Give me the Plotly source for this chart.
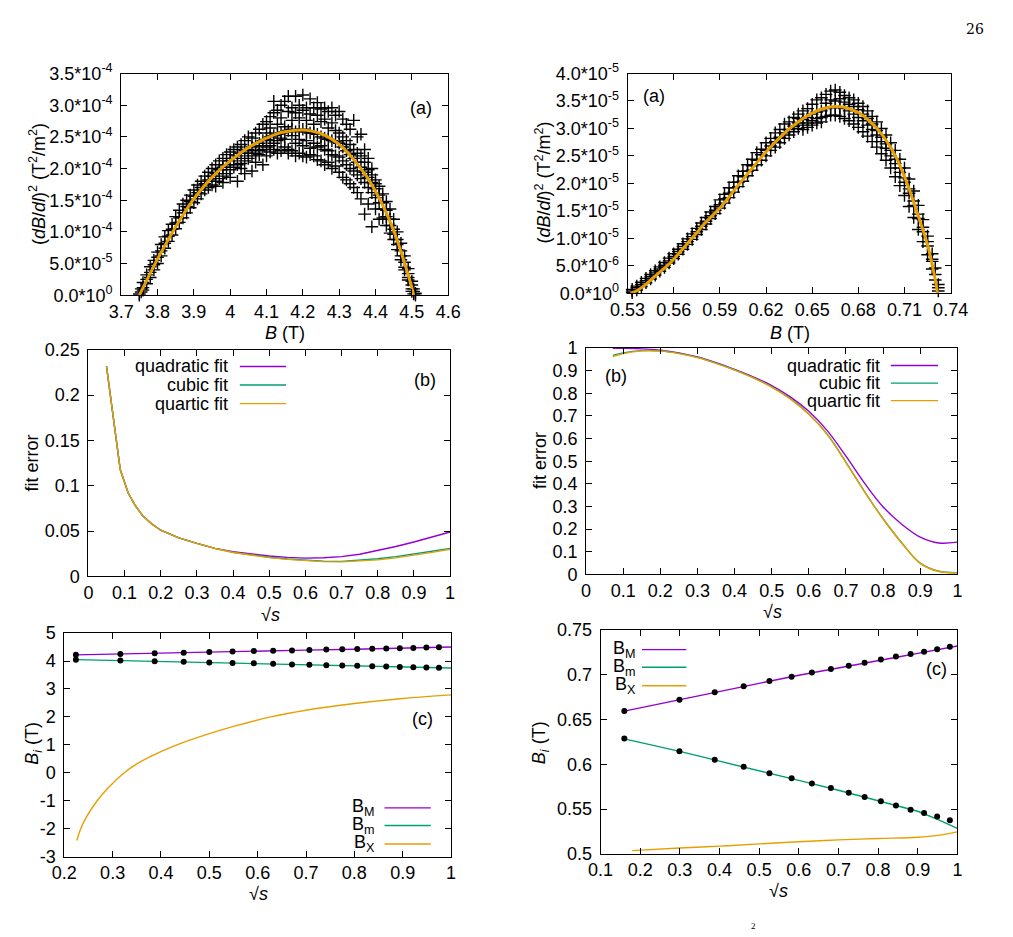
import plotly.graph_objects as go

W, H = 1013, 937
FONT = "Liberation Sans, Arial, sans-serif"
FS = 18
PURPLE, GREEN, ORANGE = "#9400d3", "#009e73", "#e69f00"

# ---------------- Panel (a), left: (dB/dl)^2 in units of 1e-4 T^2/m^2 ----------------
aL_B = [3.750, 3.755, 3.760, 3.770, 3.780, 3.790, 3.800, 3.810, 3.820, 3.830, 3.840, 3.850,
        3.860, 3.870, 3.880, 3.890, 3.900, 3.910, 3.920, 3.930, 3.940, 3.950, 3.960, 3.970,
        3.980, 3.990, 4.000, 4.010, 4.020, 4.030, 4.040, 4.050, 4.060, 4.070, 4.080, 4.090,
        4.100, 4.110, 4.120, 4.130, 4.140, 4.150, 4.160, 4.170, 4.180, 4.190, 4.200, 4.210,
        4.220, 4.230, 4.240, 4.250, 4.260, 4.270, 4.280, 4.290, 4.300, 4.310, 4.320, 4.330,
        4.340, 4.350, 4.360, 4.370, 4.380, 4.390, 4.400, 4.410, 4.420, 4.430, 4.440, 4.450,
        4.460, 4.470, 4.480, 4.490, 4.500, 4.505, 4.510]
aL_v = [[0.00, 0.02], [0.05, 0.10], [0.12, 0.08, 0.20], [0.25, 0.18, 0.32], [0.36, 0.28, 0.45],
        [0.48, 0.40, 0.55], [0.60, 0.50, 0.68], [0.70, 0.62, 0.80], [0.82, 0.74, 0.92],
        [0.93, 0.85, 1.02], [1.04, 0.95, 1.12], [1.14, 1.05, 1.24], [1.22, 1.15, 1.34],
        [1.30, 1.22, 1.44], [1.40, 1.30, 1.50], [1.48, 1.38, 1.58], [1.56, 1.46, 1.66],
        [1.62, 1.52, 1.74], [1.70, 1.60, 1.80], [1.76, 1.66, 1.88], [1.82, 1.70, 1.94],
        [1.88, 1.74, 2.00], [1.92, 1.80, 2.06, 1.72], [1.98, 1.84, 2.12], [2.02, 1.88, 2.16, 1.78],
        [2.06, 1.92, 2.22], [2.12, 1.98, 2.26, 1.86], [2.16, 2.02, 2.30], [2.20, 2.06, 2.34, 1.80],
        [2.24, 2.08, 2.38, 2.00], [2.28, 2.12, 2.44, 1.92], [2.30, 2.16, 2.50, 2.24],
        [2.34, 2.20, 2.48, 1.96], [2.36, 2.24, 2.56, 2.10], [2.40, 2.28, 2.62, 2.22],
        [2.44, 2.30, 2.70, 2.06], [2.46, 2.34, 2.74, 2.20, 2.56], [2.50, 2.36, 2.82, 2.26, 2.64],
        [2.52, 2.40, 2.88, 2.30, 3.06], [2.54, 2.44, 2.92, 2.24, 2.70], [2.56, 2.48, 3.00, 2.28, 2.80],
        [2.58, 2.46, 3.06, 2.34, 2.66], [2.60, 2.30, 2.90, 2.24, 3.14], [2.62, 2.52, 2.96, 2.28, 2.76],
        [2.58, 2.40, 2.88, 2.20, 3.14], [2.60, 2.46, 3.00, 2.24, 2.80], [2.62, 2.36, 2.92, 2.20, 3.16],
        [2.58, 2.44, 2.96, 2.18, 2.76], [2.56, 2.32, 3.10, 2.22, 2.86], [2.56, 2.40, 2.96, 2.20, 2.70],
        [2.54, 2.34, 3.04, 2.14, 2.84], [2.50, 2.36, 2.94, 2.12, 2.74], [2.48, 2.30, 2.96, 2.06, 2.78],
        [2.46, 2.28, 2.90, 2.10, 2.64], [2.44, 2.22, 2.96, 2.00, 2.72], [2.42, 2.20, 2.84, 2.04, 2.60],
        [2.40, 2.18, 2.90, 1.94, 2.56], [2.34, 2.12, 2.78, 1.86, 2.50], [2.28, 2.06, 2.70, 1.82, 2.44],
        [2.22, 2.00, 2.62, 1.76, 2.38], [2.16, 1.96, 2.76, 1.70, 2.30], [2.10, 1.90, 2.50, 1.62, 2.24],
        [2.02, 1.84, 2.54, 1.52, 2.20], [1.94, 1.78, 2.30, 1.28, 2.10], [1.86, 1.70, 2.16, 1.44, 1.98],
        [1.78, 1.62, 2.00, 1.08, 1.90], [1.68, 1.54, 1.82, 1.36, 1.76], [1.58, 1.46, 1.72, 1.20],
        [1.46, 1.36, 1.60, 1.22], [1.34, 1.24, 1.48, 1.10], [1.20, 1.10, 1.36, 0.98],
        [1.04, 0.96, 1.20, 0.88], [0.88, 0.80, 1.00, 0.72], [0.70, 0.62, 0.82, 0.56],
        [0.52, 0.44, 0.62, 0.40], [0.34, 0.28, 0.42, 0.24], [0.16, 0.10, 0.22, 0.06],
        [0.06, 0.02, 0.10], [0.00, 0.03]]
aL_fit_B = [3.75, 3.775, 3.80, 3.825, 3.85, 3.875, 3.90, 3.925, 3.95, 3.975, 4.00, 4.025, 4.05,
            4.075, 4.10, 4.125, 4.15, 4.175, 4.20, 4.225, 4.25, 4.275, 4.30, 4.325, 4.35, 4.375,
            4.40, 4.425, 4.45, 4.475, 4.50, 4.505]
aL_fit_v = [0.0, 0.29, 0.57, 0.83, 1.08, 1.31, 1.52, 1.70, 1.86, 2.00, 2.12, 2.23, 2.33, 2.41,
            2.48, 2.54, 2.58, 2.60, 2.61, 2.59, 2.55, 2.48, 2.38, 2.24, 2.07, 1.88, 1.64, 1.36,
            1.02, 0.60, 0.12, 0.0]

# ---------------- Panel (a), right: (dB/dl)^2 in units of 1e-5 T^2/m^2 ----------------
aR_B = [0.533, 0.536, 0.539, 0.542, 0.545, 0.548, 0.551, 0.554, 0.557, 0.560, 0.563, 0.566,
        0.569, 0.572, 0.575, 0.578, 0.581, 0.584, 0.587, 0.590, 0.593, 0.596, 0.599, 0.602,
        0.605, 0.608, 0.611, 0.614, 0.617, 0.620, 0.623, 0.626, 0.629, 0.632, 0.635, 0.638,
        0.641, 0.644, 0.647, 0.650, 0.653, 0.656, 0.659, 0.662, 0.665, 0.668, 0.671, 0.674,
        0.677, 0.680, 0.683, 0.686, 0.689, 0.692, 0.695, 0.698, 0.701, 0.704, 0.707, 0.710,
        0.713, 0.716, 0.719, 0.722, 0.725, 0.728, 0.730, 0.732]
aR_v = [[0.01, 0.04, 0.07], [0.06, 0.10, 0.13], [0.12, 0.16, 0.20], [0.19, 0.23, 0.27],
        [0.26, 0.30, 0.34], [0.33, 0.37, 0.41], [0.40, 0.44, 0.48], [0.47, 0.51, 0.56],
        [0.55, 0.59, 0.64], [0.63, 0.67, 0.72], [0.71, 0.76, 0.80], [0.80, 0.85, 0.90],
        [0.89, 0.94, 0.99], [0.98, 1.03, 1.08], [1.07, 1.12, 1.18], [1.16, 1.22, 1.28],
        [1.26, 1.31, 1.38], [1.36, 1.41, 1.48], [1.45, 1.51, 1.58], [1.55, 1.61, 1.70],
        [1.64, 1.72, 1.80], [1.74, 1.82, 1.92], [1.84, 1.92, 2.02], [1.94, 2.02, 2.14],
        [2.04, 2.12, 2.22], [2.14, 2.22, 2.34], [2.24, 2.32, 2.44], [2.34, 2.42, 2.56],
        [2.42, 2.52, 2.62], [2.50, 2.60, 2.74], [2.60, 2.68, 2.82], [2.66, 2.76, 2.92],
        [2.74, 2.84, 2.98], [2.82, 2.92, 3.08], [2.88, 2.98, 3.12], [2.94, 3.04, 3.20],
        [3.00, 3.10, 3.26, 3.18], [3.06, 3.16, 3.32, 2.98], [3.10, 3.20, 3.36, 3.02],
        [3.14, 3.26, 3.44, 3.06], [3.18, 3.30, 3.52, 3.10], [3.20, 3.32, 3.56, 3.12],
        [3.22, 3.36, 3.62, 3.46], [3.24, 3.38, 3.68, 3.52], [3.24, 3.38, 3.70, 3.50],
        [3.22, 3.38, 3.66, 3.54], [3.18, 3.36, 3.60, 3.48], [3.14, 3.32, 3.56, 3.44],
        [3.08, 3.26, 3.52, 3.40], [3.02, 3.20, 3.46, 3.34], [2.94, 3.14, 3.40, 3.26],
        [2.86, 3.06, 3.32, 3.18], [2.76, 2.98, 3.22, 3.08], [2.66, 2.88, 3.12, 2.96],
        [2.54, 2.76, 3.00, 2.84], [2.42, 2.64, 2.88, 2.72], [2.28, 2.50, 2.74, 2.60],
        [2.12, 2.36, 2.60, 2.44], [1.96, 2.20, 2.44, 2.28], [1.78, 2.02, 2.28, 2.10],
        [1.58, 1.82, 2.08, 1.90], [1.38, 1.60, 1.86, 1.68], [1.16, 1.36, 1.60, 1.44],
        [0.94, 1.12, 1.34, 1.20], [0.70, 0.86, 1.04, 0.94], [0.44, 0.58, 0.72, 0.62],
        [0.24, 0.34, 0.46], [0.04, 0.10, 0.16]]
aR_fit_B = [0.532, 0.535, 0.54, 0.545, 0.55, 0.555, 0.56, 0.565, 0.57, 0.575, 0.58, 0.585,
            0.59, 0.595, 0.60, 0.605, 0.61, 0.615, 0.62, 0.625, 0.63, 0.635, 0.64, 0.645,
            0.65, 0.655, 0.66, 0.665, 0.67, 0.675, 0.68, 0.685, 0.69, 0.695, 0.70, 0.705,
            0.71, 0.715, 0.72, 0.725, 0.73, 0.7315]
aR_fit_v = [0.0, 0.03, 0.12, 0.24, 0.36, 0.48, 0.62, 0.78, 0.94, 1.10, 1.27, 1.41, 1.55, 1.72,
            1.90, 2.07, 2.24, 2.41, 2.57, 2.72, 2.86, 2.99, 3.10, 3.20, 3.28, 3.34, 3.38, 3.40,
            3.39, 3.35, 3.29, 3.19, 3.06, 2.90, 2.70, 2.45, 2.12, 1.74, 1.32, 0.88, 0.25, 0.0]

# ---------------- Panel (b), left: fit error vs sqrt(s) ----------------
bL_s = [0.05, 0.088, 0.11, 0.13, 0.15, 0.175, 0.20, 0.25, 0.30, 0.35, 0.40, 0.45, 0.50, 0.55,
        0.60, 0.65, 0.70, 0.75, 0.80, 0.85, 0.90, 0.95, 1.00]
bL_quad = [0.232, 0.118, 0.092, 0.078, 0.067, 0.058, 0.051, 0.0425, 0.0365, 0.031, 0.0272,
           0.0245, 0.0225, 0.021, 0.0202, 0.0206, 0.0218, 0.0245, 0.0285, 0.033, 0.038, 0.0435, 0.049]
bL_cubic = [0.232, 0.118, 0.092, 0.078, 0.067, 0.058, 0.051, 0.0425, 0.0365, 0.031, 0.0266,
            0.0236, 0.0212, 0.0192, 0.0177, 0.0168, 0.0166, 0.0178, 0.0195, 0.0218, 0.0245, 0.0278, 0.031]
bL_quartic = [0.232, 0.118, 0.092, 0.078, 0.067, 0.058, 0.051, 0.0425, 0.0364, 0.0308, 0.0264,
              0.0233, 0.0208, 0.0188, 0.0172, 0.0163, 0.0161, 0.0168, 0.0183, 0.0205, 0.0233, 0.0265, 0.030]

# ---------------- Panel (b), right ----------------
bR_s = [0.072, 0.10, 0.15, 0.20, 0.25, 0.30, 0.35, 0.40, 0.45, 0.50, 0.55, 0.60, 0.65, 0.70,
        0.75, 0.80, 0.85, 0.90, 0.95, 1.00]
bR_quad = [0.998, 0.998, 0.996, 0.990, 0.978, 0.960, 0.935, 0.905, 0.872, 0.834, 0.784, 0.720,
           0.634, 0.522, 0.403, 0.298, 0.222, 0.165, 0.139, 0.143]
bR_cubic = [0.967, 0.978, 0.988, 0.987, 0.976, 0.958, 0.933, 0.903, 0.869, 0.828, 0.776, 0.708,
            0.618, 0.495, 0.366, 0.246, 0.140, 0.050, 0.014, 0.008]
bR_quartic = [0.962, 0.975, 0.987, 0.986, 0.975, 0.957, 0.932, 0.902, 0.868, 0.827, 0.775, 0.707,
              0.617, 0.494, 0.365, 0.245, 0.139, 0.049, 0.013, 0.007]

# ---------------- Panel (c), left: B_i vs sqrt(s) ----------------
cL_s_pts = [0.224, 0.316, 0.387, 0.447, 0.500, 0.548, 0.592, 0.632, 0.671, 0.707, 0.742, 0.775,
            0.806, 0.837, 0.866, 0.894, 0.922, 0.949, 0.975]
cL_BM_pts = [4.22, 4.25, 4.28, 4.30, 4.32, 4.34, 4.36, 4.37, 4.38, 4.39, 4.41, 4.42, 4.43, 4.44,
             4.45, 4.46, 4.47, 4.48, 4.49]
cL_Bm_pts = [4.05, 4.02, 3.99, 3.97, 3.95, 3.93, 3.92, 3.90, 3.88, 3.87, 3.85, 3.84, 3.83, 3.81,
             3.80, 3.79, 3.78, 3.77, 3.76]
cL_s_line = [0.224, 0.30, 0.40, 0.50, 0.60, 0.70, 0.80, 0.90, 1.00]
cL_BM_line = [4.22, 4.25, 4.29, 4.32, 4.36, 4.39, 4.42, 4.47, 4.50]
cL_Bm_line = [4.05, 4.02, 3.98, 3.95, 3.91, 3.87, 3.83, 3.78, 3.75]
cL_s_X = [0.226, 0.234, 0.245, 0.268, 0.29, 0.324, 0.35, 0.38, 0.433, 0.50, 0.55, 0.627, 0.70,
          0.80, 0.90, 1.00]
cL_BX = [-2.42, -2.0, -1.6, -1.0, -0.55, 0.0, 0.32, 0.60, 1.0, 1.40, 1.66, 2.0, 2.24, 2.48,
         2.66, 2.79]

# ---------------- Panel (c), right ----------------
cR_s_pts = [0.160, 0.299, 0.388, 0.461, 0.526, 0.582, 0.633, 0.681, 0.726, 0.766, 0.807, 0.845,
            0.882, 0.916, 0.949, 0.981]
cR_BM_pts = [0.6595, 0.6723, 0.6807, 0.6872, 0.6931, 0.6978, 0.7026, 0.7066, 0.7102, 0.7135,
             0.7172, 0.7204, 0.7234, 0.7259, 0.7285, 0.7314]
cR_Bm_pts = [0.6288, 0.6146, 0.6051, 0.5974, 0.5901, 0.5843, 0.5785, 0.5734, 0.5682, 0.5635,
             0.5588, 0.5540, 0.5493, 0.5456, 0.5416, 0.5376]
cR_s_line = [0.160, 0.30, 0.40, 0.50, 0.60, 0.70, 0.80, 0.85, 0.90, 0.95, 0.98, 1.00]
cR_BM_line = [0.6595, 0.6725, 0.6815, 0.6905, 0.6995, 0.7080, 0.7160, 0.7200, 0.7240, 0.7280,
              0.7305, 0.7322]
cR_Bm_line = [0.6285, 0.6145, 0.6035, 0.5930, 0.5820, 0.5710, 0.5590, 0.5530, 0.5475, 0.5385,
              0.5330, 0.5285]
cR_s_X = [0.18, 0.30, 0.40, 0.50, 0.60, 0.70, 0.80, 0.90, 0.95, 1.00]
cR_BX = [0.5035, 0.5065, 0.5085, 0.5110, 0.5135, 0.5155, 0.5170, 0.5185, 0.5205, 0.5245]

# tick labels
aL_xticks = [3.7, 3.8, 3.9, 4.0, 4.1, 4.2, 4.3, 4.4, 4.5, 4.6]
aL_xtext = ["3.7", "3.8", "3.9", "4", "4.1", "4.2", "4.3", "4.4", "4.5", "4.6"]
aL_yticks = [0, 0.5e-4, 1.0e-4, 1.5e-4, 2.0e-4, 2.5e-4, 3.0e-4, 3.5e-4]
aL_ytext = ["0.0*10<sup>0</sup>", "5.0*10<sup>-5</sup>", "1.0*10<sup>-4</sup>", "1.5*10<sup>-4</sup>",
            "2.0*10<sup>-4</sup>", "2.5*10<sup>-4</sup>", "3.0*10<sup>-4</sup>", "3.5*10<sup>-4</sup>"]
aR_xticks = [0.53, 0.56, 0.59, 0.62, 0.65, 0.68, 0.71, 0.74]
aR_yticks = [0, 0.5e-5, 1.0e-5, 1.5e-5, 2.0e-5, 2.5e-5, 3.0e-5, 3.5e-5, 4.0e-5]
aR_ytext = ["0.0*10<sup>0</sup>", "5.0*10<sup>-6</sup>", "1.0*10<sup>-5</sup>", "1.5*10<sup>-5</sup>",
            "2.0*10<sup>-5</sup>", "2.5*10<sup>-5</sup>", "3.0*10<sup>-5</sup>", "3.5*10<sup>-5</sup>",
            "4.0*10<sup>-5</sup>"]


def flat(xs, groups, scale):
    X, Y = [], []
    for x, g in zip(xs, groups):
        for v in g:
            X.append(x)
            Y.append(v * scale)
    return X, Y


def dx(x0, x1):
    return [x0 / W, x1 / W]


def dy(y0, y1):
    return [1 - y1 / H, 1 - y0 / H]


def px(x):
    return x / W


def py(y):
    return 1 - y / H


fig = go.Figure()

cross = dict(symbol="cross-thin", size=9, line=dict(color="black", width=1.4), color="black")
dots = dict(symbol="circle", size=6, color="black")

X, Y = flat(aL_B, aL_v, 1e-4)
fig.add_trace(go.Scatter(x=X, y=Y, mode="markers", marker=cross, xaxis="x", yaxis="y", cliponaxis=False))
fig.add_trace(go.Scatter(x=aL_fit_B, y=[v * 1e-4 for v in aL_fit_v], mode="lines",
                         line=dict(color=ORANGE, width=3, shape="spline"), xaxis="x", yaxis="y"))
X, Y = flat(aR_B, aR_v, 1e-5)
fig.add_trace(go.Scatter(x=X, y=Y, mode="markers", marker=cross, xaxis="x2", yaxis="y2", cliponaxis=False))
fig.add_trace(go.Scatter(x=aR_fit_B, y=[v * 1e-5 for v in aR_fit_v], mode="lines",
                         line=dict(color=ORANGE, width=3, shape="spline"), xaxis="x2", yaxis="y2"))

for ys, col in [(bL_quad, PURPLE), (bL_cubic, GREEN), (bL_quartic, ORANGE)]:
    fig.add_trace(go.Scatter(x=bL_s, y=ys, mode="lines", line=dict(color=col, width=1.4),
                             xaxis="x3", yaxis="y3"))
for ys, col in [(bR_quad, PURPLE), (bR_cubic, GREEN), (bR_quartic, ORANGE)]:
    fig.add_trace(go.Scatter(x=bR_s, y=ys, mode="lines", line=dict(color=col, width=1.4, shape="spline"),
                             xaxis="x4", yaxis="y4"))

fig.add_trace(go.Scatter(x=cL_s_line, y=cL_BM_line, mode="lines", line=dict(color=PURPLE, width=1.4), xaxis="x5", yaxis="y5"))
fig.add_trace(go.Scatter(x=cL_s_line, y=cL_Bm_line, mode="lines", line=dict(color=GREEN, width=1.4), xaxis="x5", yaxis="y5"))
fig.add_trace(go.Scatter(x=cL_s_X, y=cL_BX, mode="lines", line=dict(color=ORANGE, width=1.4, shape="spline"), xaxis="x5", yaxis="y5"))
fig.add_trace(go.Scatter(x=cL_s_pts, y=cL_BM_pts, mode="markers", marker=dots, xaxis="x5", yaxis="y5", cliponaxis=False))
fig.add_trace(go.Scatter(x=cL_s_pts, y=cL_Bm_pts, mode="markers", marker=dots, xaxis="x5", yaxis="y5", cliponaxis=False))

fig.add_trace(go.Scatter(x=cR_s_line, y=cR_BM_line, mode="lines", line=dict(color=PURPLE, width=1.4), xaxis="x6", yaxis="y6"))
fig.add_trace(go.Scatter(x=cR_s_line, y=cR_Bm_line, mode="lines", line=dict(color=GREEN, width=1.4), xaxis="x6", yaxis="y6"))
fig.add_trace(go.Scatter(x=cR_s_X, y=cR_BX, mode="lines", line=dict(color=ORANGE, width=1.4, shape="spline"), xaxis="x6", yaxis="y6"))
fig.add_trace(go.Scatter(x=cR_s_pts, y=cR_BM_pts, mode="markers", marker=dots, xaxis="x6", yaxis="y6", cliponaxis=False))
fig.add_trace(go.Scatter(x=cR_s_pts, y=cR_Bm_pts, mode="markers", marker=dots, xaxis="x6", yaxis="y6", cliponaxis=False))

axstyle = dict(showline=True, linecolor="black", linewidth=1, mirror="allticks", ticks="inside",
               ticklen=6, tickcolor="black", tickwidth=1, showgrid=False, zeroline=False,
               tickfont=dict(family=FONT, size=FS, color="black"), fixedrange=True)
xst = dict(axstyle)
yst = dict(axstyle, ticklabelstandoff=4)

tick01 = [round(0.1 * i, 1) for i in range(11)]
tick01_text = ["0", "0.1", "0.2", "0.3", "0.4", "0.5", "0.6", "0.7", "0.8", "0.9", "1"]

fig.update_layout(
    width=W, height=H, margin=dict(l=0, r=0, t=0, b=0), showlegend=False,
    paper_bgcolor="white", plot_bgcolor="white",
    xaxis=dict(xst, domain=dx(107, 446), range=[3.7, 4.6], anchor="y",
               tickvals=aL_xticks, ticktext=aL_xtext),
    yaxis=dict(yst, domain=dy(63, 290), range=[0, 3.5e-4], anchor="x",
               tickvals=aL_yticks, ticktext=aL_ytext),
    xaxis2=dict(xst, domain=dx(632, 967), range=[0.53, 0.74], anchor="y2",
                tickvals=aR_xticks, ticktext=[f"{v:.2f}" for v in aR_xticks]),
    yaxis2=dict(yst, domain=dy(63, 288), range=[0, 4e-5], anchor="x2",
                tickvals=aR_yticks, ticktext=aR_ytext),
    xaxis3=dict(xst, domain=dx(73, 448), range=[0, 1], anchor="y3",
                tickvals=tick01, ticktext=tick01_text),
    yaxis3=dict(yst, domain=dy(346, 578), range=[0, 0.25], anchor="x3",
                tickvals=[0, 0.05, 0.1, 0.15, 0.2, 0.25], ticktext=["0", "0.05", "0.1", "0.15", "0.2", "0.25"]),
    xaxis4=dict(xst, domain=dx(589, 974), range=[0, 1], anchor="y4",
                tickvals=tick01, ticktext=tick01_text),
    yaxis4=dict(yst, domain=dy(344, 576), range=[0, 1], anchor="x4",
                tickvals=tick01, ticktext=tick01_text),
    xaxis5=dict(xst, domain=dx(48, 449), range=[0.2, 1], anchor="y5",
                tickvals=tick01[2:], ticktext=tick01_text[2:]),
    yaxis5=dict(yst, domain=dy(636, 865), range=[-3, 5], anchor="x5",
                tickvals=list(range(-3, 6)), ticktext=[str(v) for v in range(-3, 6)]),
    xaxis6=dict(xst, domain=dx(604, 974), range=[0.1, 1], anchor="y6",
                tickvals=tick01[1:], ticktext=tick01_text[1:]),
    yaxis6=dict(yst, domain=dy(633, 862), range=[0.5, 0.75], anchor="x6",
                tickvals=[0.5, 0.55, 0.6, 0.65, 0.7, 0.75], ticktext=["0.5", "0.55", "0.6", "0.65", "0.7", "0.75"]),
)

anns = []


def ann(text, x, y, xanchor="center", angle=0, size=FS, family=FONT):
    anns.append(dict(text=text, x=px(x), y=py(y), xref="paper", yref="paper", showarrow=False,
                     xanchor=xanchor, yanchor="middle", textangle=angle,
                     font=dict(family=family, size=size, color="black")))


# axis titles
ann("<i>B</i> (T)", 277, 329)
ann("<i>B</i> (T)", 800, 329)
ann("(<i>dB</i>/<i>dl</i>)<sup>2</sup> (T<sup>2</sup>/m<sup>2</sup>)", 21, 176, angle=-90)
ann("(<i>dB</i>/<i>dl</i>)<sup>2</sup> (T<sup>2</sup>/m<sup>2</sup>)", 545, 175, angle=-90)
ann("√<i>s</i>", 262, 617)
ann("√<i>s</i>", 782, 614)
ann("fit error", 15, 462, angle=-90)
ann("fit error", 541, 459, angle=-90)
ann("√<i>s</i>", 249, 903)
ann("√<i>s</i>", 789, 900)
ann("<i>B<sub>i</sub></i> (T)", 16, 749, angle=-90)
ann("<i>B<sub>i</sub></i> (T)", 542, 748, angle=-90)

# panel labels
ann("(a)", 418, 98)
ann("(a)", 659, 86)
ann("(b)", 422, 377)
ann("(b)", 620, 373)
ann("(c)", 419, 724)
ann("(c)", 952, 673)

# page number and caption fragment
ann("26", 992, 17, family="DejaVu Serif, Liberation Serif, serif", size=14)
anns.append(dict(text="2", x=px(763), y=py(929), xref="paper", yref="paper", showarrow=False,
                 xanchor="center", yanchor="top", font=dict(family="Liberation Serif", size=9, color="black")))

shapes = []


def key(labels, cols, xtext, x0, x1, ys):
    for lab, col, y in zip(labels, cols, ys):
        ann(lab, xtext, y, xanchor="right")
        shapes.append(dict(type="line", xref="paper", yref="paper", x0=px(x0), x1=px(x1),
                           y0=py(y), y1=py(y), line=dict(color=col, width=1.4)))


fits = ["quadratic fit", "cubic fit", "quartic fit"]
cols = [PURPLE, GREEN, ORANGE]
key(fits, cols, 220, 230, 278, [363, 382, 401])
key(fits, cols, 896, 905, 954, [362, 380, 398])
bl = ["B<sub>M</sub>", "B<sub>m</sub>", "B<sub>X</sub>"]
key(bl, cols, 372, 380, 428, [815, 833, 852])
key(bl, cols, 643, 647, 693, [653, 671, 690])

fig.update_layout(annotations=anns, shapes=shapes)
fig.write_html("out.html")
